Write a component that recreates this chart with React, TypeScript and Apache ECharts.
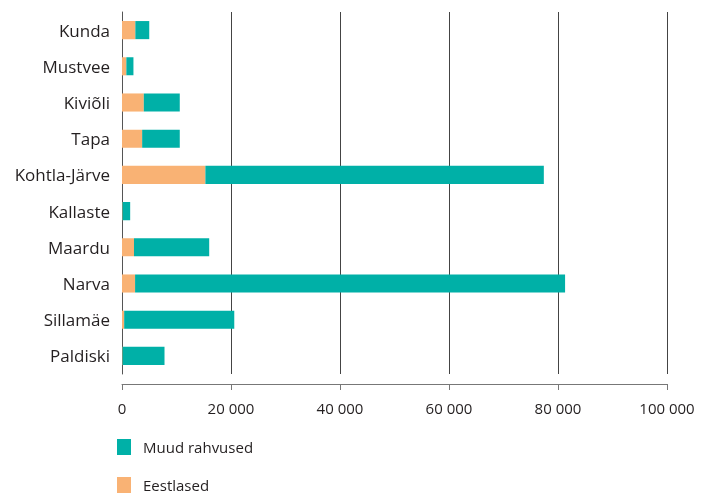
import React, { useEffect, useRef } from "react";
import * as echarts from "echarts";

const categories = ["Paldiski", "Sillamäe", "Narva", "Maardu", "Kallaste", "Kohtla-Järve", "Tapa", "Kiviõli", "Mustvee", "Kunda"];
const eestlased = [100, 400, 2400, 2200, 100, 15300, 3700, 4000, 800, 2450];
const muudRahvused = [7700, 20200, 78900, 13800, 1400, 62100, 6900, 6600, 1300, 2550];
const xTicks = { min: 0, max: 100000, interval: 20000 };
const legendNames = ["Muud rahvused", "Eestlased"];

const FONT = "'Open Sans', 'Noto Sans', sans-serif";
const TEXT = "#231f20";

export default function App() {
  const ref = useRef<HTMLDivElement>(null);
  useEffect(() => {
    if (!ref.current) return;
    const chart = echarts.init(ref.current, undefined, { renderer: "svg" });
    const legendBase = {
      orient: "horizontal",
      left: 117,
      itemWidth: 14,
      itemHeight: 16,
      itemGap: 0,
      icon: "rect",
      textStyle: { fontFamily: FONT, fontSize: 15, color: TEXT, padding: [0, 0, 0, 7] },
      padding: 0,
    };
    chart.setOption({
      animation: false,
      textStyle: { fontFamily: FONT },
      grid: { left: 122, right: 41, top: 12, bottom: 121, containLabel: false },
      legend: [
        { ...legendBase, top: 439, data: [legendNames[0]] },
        { ...legendBase, top: 477, data: [legendNames[1]] },
      ],
      xAxis: {
        type: "value",
        min: xTicks.min,
        max: xTicks.max,
        interval: xTicks.interval,
        offset: 10,
        axisLine: { show: true, lineStyle: { color: "#777", width: 1 } },
        axisTick: { show: true, length: 6, lineStyle: { color: "#777" } },
        axisLabel: {
          margin: 16,
          fontFamily: FONT,
          fontSize: 15,
          color: TEXT,
          formatter: (v: number) => String(v).replace(/\B(?=(\d{3})+(?!\d))/g, " "),
        },
        splitLine: { show: true, lineStyle: { color: "#444", width: 1 } },
      },
      yAxis: {
        type: "category",
        data: categories,
        axisLine: { show: true, lineStyle: { color: "#555", width: 1 } },
        axisTick: { show: false },
        axisLabel: { margin: 12, fontFamily: FONT, fontSize: 17, color: TEXT },
      },
      series: [
        {
          name: "Eestlased",
          type: "bar",
          stack: "total",
          data: eestlased,
          barWidth: "50%",
          itemStyle: { color: "#f9b274" },
        },
        {
          name: "Muud rahvused",
          type: "bar",
          stack: "total",
          data: muudRahvused,
          barWidth: "50%",
          itemStyle: { color: "#00b0a7" },
        },
      ],
    });
    return () => chart.dispose();
  }, []);
  return <div ref={ref} style={{ position: "fixed", left: 0, top: 0, width: 708, height: 495 }} />;
}
